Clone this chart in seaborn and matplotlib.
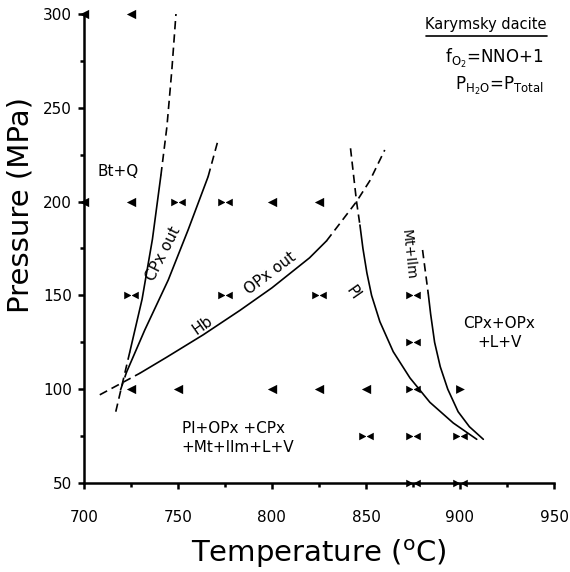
import numpy as np
import pandas as pd
import seaborn as sns
import matplotlib.pyplot as plt
from matplotlib.path import Path
from matplotlib.ticker import MultipleLocator

# ---- phase boundaries (T in C, P in MPa) ----
# Bt+Q boundary
btq_T = [717.0, 720.5, 724.5, 731.0, 736.5, 741.0, 744.2, 746.8, 749.0]
btq_P = [88, 103, 120, 148, 180, 214, 240, 270, 300]
btq_solid = (2, 5)  # index range drawn solid

# CPx out
cpx_T = [719.5, 722.7, 732.4, 744.9, 755.5, 766.1, 771.4]
cpx_P = [99.5, 109.0, 131.5, 158.2, 185, 213.3, 232.8]
cpx_solid = (1, 5)

# Hb / OPx out
opx_T = [708.5, 729.8, 744.0, 763.5, 783.0, 800.0, 820.0, 829.0, 836.2, 845.0, 852.0, 860.0]
opx_P = [97, 108.5, 117, 129, 142, 154, 170, 179, 188.4, 200, 211, 227.5]
opx_solid = (1, 7)

# Pl out
pl_T = [841.8, 845.0, 846.8, 848.4, 850.5, 853.0, 857.4, 864.5, 873.4, 884.0, 896.4, 908.9]
pl_P = [228.4, 200, 187.5, 175, 162, 150, 136, 120, 106, 93, 82, 73.3]
pl_solid = (2, 11)

# Mt+Ilm out
mt_T = [880.1, 883.1, 884.4, 886.5, 889.5, 893.5, 899.0, 905.0, 912.4]
mt_P = [174.2, 151.1, 140, 125, 112, 100, 88, 80, 73.3]
mt_solid = (1, 8)

# ---- experiments ----
left_T = [700, 725, 700, 725, 800, 825, 725, 750, 800, 825, 850]
left_P = [300, 300, 200, 200, 200, 200, 100, 100, 100, 100, 100]
bow_T = [750, 775, 725, 775, 825, 875, 875, 875, 850, 875, 900, 875, 900]
bow_P = [200, 200, 150, 150, 150, 150, 125, 100, 75, 75, 75, 50, 50]
right_T = [900]
right_P = [100]

sns.set_style("ticks")
plt.rcParams['font.family'] = ['DejaVu Sans']
plt.rcParams['mathtext.default'] = 'regular'
for key in ['text.color', 'axes.labelcolor', 'xtick.color', 'ytick.color',
            'axes.edgecolor']:
    plt.rcParams[key] = 'black'

fig = plt.figure(figsize=(5.7, 5.72), dpi=100)
ax = fig.add_axes([0.147, 0.1556, 0.825, 0.82])


def draw_curve(T, P, solid):
    a, b = solid
    segs = []
    if a > 0:
        segs.append((T[:a + 1], P[:a + 1], (0, (5, 3))))
    segs.append((T[a:b + 1], P[a:b + 1], '-'))
    if b < len(T) - 1:
        segs.append((T[b:], P[b:], (0, (5, 3))))
    for t, p, ls in segs:
        d = pd.DataFrame({'T': t, 'P': p})
        sns.lineplot(data=d, x='T', y='P', sort=False, estimator=None, ax=ax,
                     color='black', linewidth=1.2, linestyle=ls)


for T, P, s in [(btq_T, btq_P, btq_solid), (cpx_T, cpx_P, cpx_solid),
                (opx_T, opx_P, opx_solid), (pl_T, pl_P, pl_solid),
                (mt_T, mt_P, mt_solid)]:
    draw_curve(T, P, s)

bowtie = Path([(-1, -0.52), (-1, 0.52), (1, -0.52), (1, 0.52), (-1, -0.52)],
              [Path.MOVETO, Path.LINETO, Path.LINETO, Path.LINETO, Path.CLOSEPOLY])

sns.scatterplot(x=left_T, y=left_P, marker='<', s=45, color='black',
                linewidth=0, ax=ax, clip_on=False, zorder=5)
sns.scatterplot(x=right_T, y=right_P, marker='>', s=40, color='black',
                linewidth=0, ax=ax, clip_on=False, zorder=5)
sns.scatterplot(x=bow_T, y=bow_P, marker=bowtie, s=110, color='black',
                linewidth=0, ax=ax, clip_on=False, zorder=5)

# ---- labels in the field ----
ax.text(718, 216, 'Bt+Q', fontsize=11, ha='center', va='center')
ax.text(742.3, 172, 'CPx out', fontsize=11, ha='center', va='center', rotation=63)
ax.text(763.4, 134, 'Hb', fontsize=11, ha='center', va='center', rotation=35)
ax.text(799, 162, 'OPx out', fontsize=11, ha='center', va='center', rotation=37)
ax.text(843, 151.3, 'Pl', fontsize=11, ha='center', va='center', rotation=-55)
ax.text(872.3, 171.5, 'Mt+Ilm', fontsize=10, ha='center', va='center', rotation=-84)
ax.text(921, 130, 'CPx+OPx\n+L+V', fontsize=11, ha='center', va='center',
        linespacing=1.4)
ax.text(752, 74, 'Pl+OPx +CPx\n+Mt+Ilm+L+V', fontsize=11, ha='left', va='center',
        linespacing=1.4)

ax.text(0.985, 0.978, 'Karymsky dacite', transform=ax.transAxes, fontsize=10.5,
        ha='right', va='center')
ax.plot([0.728, 0.985], [0.953, 0.953], transform=ax.transAxes, color='black',
        linewidth=1.2, clip_on=False)
ax.text(0.978, 0.906, r'f$_{O_2}$=NNO+1', transform=ax.transAxes, fontsize=12,
        ha='right', va='center')
ax.text(0.978, 0.846, r'P$_{H_2O}$=P$_{Total}$', transform=ax.transAxes,
        fontsize=12, ha='right', va='center')

# ---- axes ----
ax.set_xlim(700, 950)
ax.set_ylim(50, 300)
ax.xaxis.set_major_locator(MultipleLocator(50))
ax.xaxis.set_minor_locator(MultipleLocator(25))
ax.yaxis.set_major_locator(MultipleLocator(50))
ax.yaxis.set_minor_locator(MultipleLocator(25))
ax.set_xlabel(r'Temperature ($^{o}$C)', fontsize=21)
ax.set_ylabel('Pressure (MPa)', fontsize=21)
ax.xaxis.set_label_coords(0.5, -0.116)
ax.yaxis.set_label_coords(-0.105, 0.593)
ax.tick_params(axis='both', which='major', labelsize=11, length=4.5, width=1.8,
               direction='out', colors='black')
ax.tick_params(axis='x', which='major', pad=15)
ax.tick_params(axis='y', which='major', pad=4)
ax.tick_params(axis='both', which='minor', length=3, width=1.8, direction='out')
ax.spines['right'].set_visible(False)
ax.spines['top'].set_visible(False)
ax.spines['left'].set_linewidth(1.8)
ax.spines['bottom'].set_linewidth(1.8)

fig.savefig('out.png', dpi=100)
